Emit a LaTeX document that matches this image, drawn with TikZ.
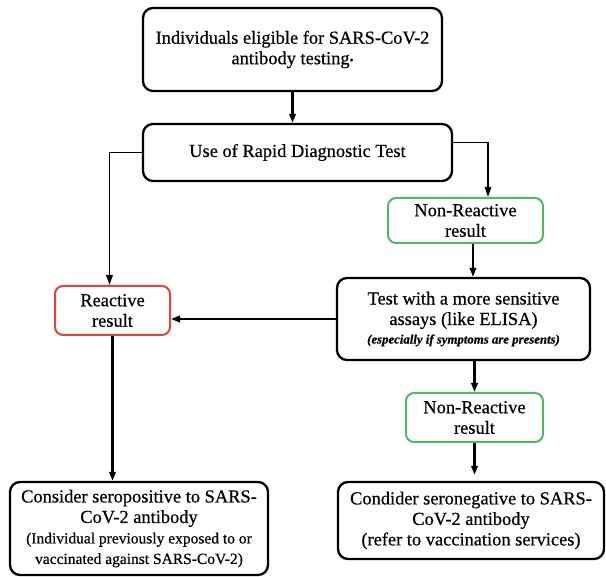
\documentclass[tikz,border=0pt]{standalone}
\usepackage{fontspec}
\setmainfont{Liberation Serif}[FakeBold=0.5]
\usetikzlibrary{arrows.meta,calc}
\definecolor{redb}{RGB}{232,66,56}
\definecolor{greenb}{RGB}{80,184,104}
\begin{document}
\begin{tikzpicture}[x=1pt,y=-1pt,
  box/.style={draw=black, line width=2.3pt, rounded corners=10pt, align=center, inner sep=0pt,
    font=\fontsize{18.4}{20.5}\selectfont},
  smallbox/.style={box, line width=2pt, rounded corners=8pt},
  arr/.style={line width=2.1pt, -{Triangle[length=9pt,width=6.5pt]}},
  thinarr/.style={line width=1.5pt, -{Triangle[length=10pt,width=6.5pt]}},
]
\useasboundingbox (0,0) rectangle (606,577);

\node[box, minimum width=299pt, minimum height=83pt] (top) at (292.5,49.5)
  {Individuals eligible for SARS-CoV-2\\antibody testing{\fontsize{11}{11}\selectfont\raisebox{0.5pt}{\textbullet}}};
\node[box, minimum width=309pt, minimum height=57pt] (use) at (297.5,152.5)
  {Use of Rapid Diagnostic Test};
\node[smallbox, draw=greenb, minimum width=155pt, minimum height=45pt] (nr1) at (465.5,220.5)
  {Non-Reactive\\result};
\node[box, minimum width=253pt, minimum height=82pt] (test) at (463.5,319)
  {Test with a more sensitive\\assays (like ELISA)\\[-2pt]{\fontsize{12.8}{14}\selectfont\bfseries\itshape (especially if symptoms are presents)}};
\node[smallbox, draw=redb, minimum width=115pt, minimum height=49pt] (react) at (112.5,310.5)
  {Reactive\\result};
\node[smallbox, draw=greenb, minimum width=137pt, minimum height=49pt] (nr2) at (474.5,417.5)
  {Non-Reactive\\result};
\node[box, minimum width=258pt, minimum height=93pt] (pos) at (139,528.5)
  {Consider seropositive to SARS-\\CoV-2 antibody\\{\fontsize{15.5}{20.5}\selectfont (Individual previously exposed to or}\\{\fontsize{15.5}{20.5}\selectfont vaccinated against SARS-CoV-2)}};
\node[box, minimum width=266pt, minimum height=77pt] (neg) at (471,520.5)
  {Condider seronegative to SARS-\\CoV-2 antibody\\(refer to vaccination services)};

\draw[arr] (top.south) -- (top.south |- use.north);
\draw[thinarr] (use.west) -| ([xshift=-3pt]react.north);
\draw[thinarr] ([yshift=10pt]use.east) -| ([xshift=22.5pt]nr1.north);
\draw[arr] ([xshift=7.5pt]nr1.south) -- ([xshift=7.5pt]nr1.south |- test.north);
\draw[arr] (test.west) -- (test.west -| react.east);
\draw[arr] (nr2.north |- test.south) -- (nr2.north);
\draw[arr, shorten >=6pt] (nr2.south) -- (nr2.south |- neg.north);
\draw[arr] (react.south) -- (react.south |- pos.north);
\end{tikzpicture}
\end{document}
